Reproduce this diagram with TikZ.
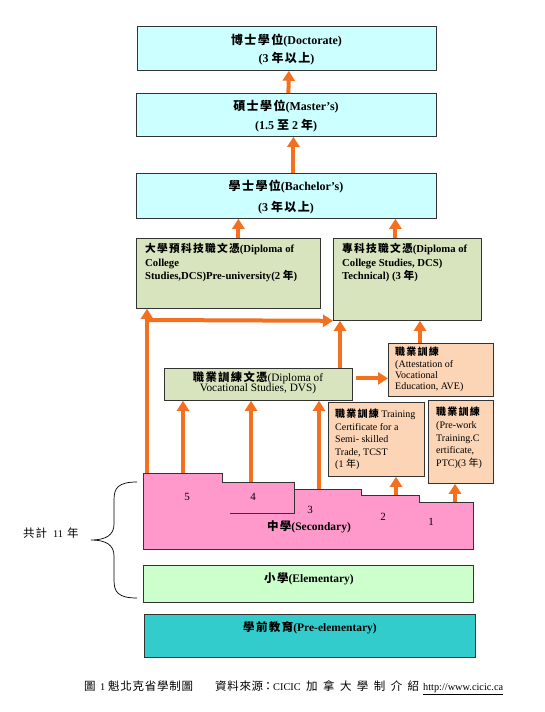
\documentclass[tikz,border=0pt]{standalone}
\usepackage{fontspec}
\setmainfont{Liberation Serif}
\newfontfamily\cjkf{Noto Sans CJK TC}[LetterSpace=12]
\newfontfamily\cjkp{Noto Sans CJK TC}
\newcommand\zhc[1]{{\cjkf #1}}
\usetikzlibrary{arrows.meta}
\definecolor{cyanc}{HTML}{CCFFFF}
\definecolor{greenc}{HTML}{D7E4BD}
\definecolor{peachc}{HTML}{FBD5B5}
\definecolor{pinkc}{HTML}{FF99CC}
\definecolor{elemc}{HTML}{CCFFCC}
\definecolor{prec}{HTML}{33CCCC}
\definecolor{orangec}{HTML}{F37021}
\definecolor{bordc}{HTML}{333333}
\begin{document}
\begin{tikzpicture}[x=1pt,y=-1pt,
  box/.style={draw=bordc, line width=0.8pt, inner sep=0pt, anchor=north west},
  arr/.style={draw=orangec, line width=4pt, -{Triangle[width=12pt,length=10pt]}},
  ttl/.style={font=\fontsize{12}{14}\selectfont\bfseries, inner sep=0pt},
  dcstxt/.style={font=\fontsize{10.7}{13.5}\selectfont\bfseries, align=left, inner sep=0pt, anchor=north west},
  smtxt/.style={font=\fontsize{10}{12.5}\selectfont, align=left, inner sep=0pt, anchor=north west},
  numtxt/.style={font=\fontsize{11}{13}\selectfont, inner sep=0pt}
]
\useasboundingbox (0,0) rectangle (544,712);
\fill[white] (0,0) rectangle (544,712);

% boxes
\node[box, fill=cyanc, minimum width=299pt, minimum height=44pt] (doc) at (137,26) {};
\node[box, fill=cyanc, minimum width=300pt, minimum height=43pt] (mas) at (136,93) {};
\node[box, fill=cyanc, minimum width=300pt, minimum height=45pt] (bac) at (136,173) {};
\node[box, fill=greenc, minimum width=184pt, minimum height=70pt] (dcsp) at (136,238) {};
\node[box, fill=greenc, minimum width=148pt, minimum height=82pt] (dcst) at (333,238) {};
\node[box, fill=greenc, minimum width=188pt, minimum height=32pt] (dvs) at (164,368) {};
\node[box, fill=peachc, minimum width=105pt, minimum height=53pt] (ave) at (388,343) {};
\node[box, fill=peachc, minimum width=96pt, minimum height=74pt] (tcst) at (328,402) {};
\node[box, fill=peachc, minimum width=65pt, minimum height=83pt] (ptc) at (428,400) {};
\node[box, fill=elemc, minimum width=330pt, minimum height=37pt] (elem) at (143,565) {};
\node[box, fill=prec, minimum width=331pt, minimum height=43pt] (pre) at (144,614) {};

% secondary stepped shape
\filldraw[fill=pinkc, draw=bordc, line width=0.8pt]
  (143,473) -- (222,473) -- (222,482) -- (294,482) -- (294,489) -- (361,489)
  -- (361,495) -- (419,495) -- (419,502) -- (473,502) -- (473,549) -- (143,549) -- cycle;
\draw[bordc, line width=0.8pt] (230,513) -- (294,513) -- (294,482);

% texts
\node[ttl] (doct1) at (286.5,41) {\zhc{博士學位}(Doctorate)};
\node[ttl] (doct2) at (286.5,59) {(3 \zhc{年以上})};
\node[ttl] (mast1) at (286,107) {\zhc{碩士學位}(Master’s)};
\node[ttl] (mast2) at (286,126) {(1.5 \zhc{至} 2 \zhc{年})};
\node[ttl] (bact1) at (286,187) {\zhc{學士學位}(Bachelor’s)};
\node[ttl] (bact2) at (286,208) {(3 \zhc{年以上})};
\node[dcstxt] (dcspt) at (145,243.5) {\zhc{大學預科技職文憑}(Diploma of\\College\\Studies,DCS)Pre-university(2 \zhc{年})};
\node[dcstxt] (dcstt) at (342,243.5) {\zhc{專科技職文憑}(Diploma of\\College Studies, DCS)\\Technical) (3 \zhc{年})};
\node[font=\fontsize{11.3}{10.5}\selectfont, align=center, inner sep=0pt] (dvst) at (258,383) {{\bfseries\zhc{職業訓練文憑}}(Diploma of\\Vocational Studies, DVS)};
\node[smtxt, font=\fontsize{10}{11.3}\selectfont] (avet) at (395,347) {{\bfseries\zhc{職業訓練}}\\(Attestation of\\Vocational\\Education, AVE)};
\node[smtxt] (tcstt) at (335,409) {{\bfseries\zhc{職業訓練}} Training\\Certificate for a\\Semi- skilled\\Trade, TCST\\(1 \zhc{年})};
\node[smtxt, font=\fontsize{10}{12.7}\selectfont] (ptct) at (436,407) {{\bfseries\zhc{職業訓練}}\\(Pre-work\\Training.C\\ertificate,\\PTC)(3 \zhc{年})};
\node[numtxt] (n5) at (187,497) {5};
\node[numtxt] (n4) at (253,497) {4};
\node[numtxt] (n3) at (310,510) {3};
\node[numtxt] (n2) at (383,517) {2};
\node[numtxt] (n1) at (431,522) {1};
\node[ttl, font=\fontsize{11.5}{13}\selectfont\bfseries] (sect) at (309,527) {\zhc{中學}(Secondary)};
\node[ttl, font=\fontsize{11.5}{13}\selectfont\bfseries] (elemt) at (309,579) {\zhc{小學}(Elementary)};
\node[ttl, font=\fontsize{11.5}{13}\selectfont\bfseries] (pret) at (310,628) {\zhc{學前教育}(Pre-elementary)};
\node[inner sep=0pt, anchor=west, font=\fontsize{10.3}{12}\selectfont] (tot) at (23,533)
  {\makebox[30pt][l]{\makebox[24pt][s]{\cjkp\fontsize{11.5}{12}\selectfont 共\hfill 計}}\makebox[14pt][l]{11}{\cjkp\fontsize{11.5}{12}\selectfont 年}};
\node[inner sep=0pt, anchor=west, font=\fontsize{10.3}{12}\selectfont] (cap) at (84,688)
  {\makebox[16pt][l]{\cjkp\fontsize{11.5}{12}\selectfont 圖}\makebox[8pt][l]{1}%
   \makebox[85pt][s]{\cjkp\fontsize{11.5}{12}\selectfont 魁\hfill 北\hfill 克\hfill 省\hfill 學\hfill 制\hfill 圖}\hspace*{22pt}%
   \makebox[48pt][s]{\cjkp\fontsize{11.5}{12}\selectfont 資\hfill 料\hfill 來\hfill 源}%
   \makebox[10pt][c]{\cjkp\fontsize{11.5}{12}\selectfont ：}%
   CICIC\hspace*{5.5pt}%
   \makebox[113pt][s]{\cjkp\fontsize{11.5}{12}\selectfont 加\hfill 拿\hfill 大\hfill 學\hfill 制\hfill 介\hfill 紹}\hspace*{4pt}%
   \underline{http://www.cicic.ca}};

% brace
\draw[black, line width=0.7pt] (137,482) .. controls (118,482) and (114,488) .. (114,500) -- (114,524)
  .. controls (114,535) and (106,540) .. (91,540) .. controls (106,540) and (114,545) .. (114,556)
  -- (114,580) .. controls (114,592) and (118,598) .. (137,598);

% arrow start coordinates on the secondary steps
\coordinate (s5a) at (147,473);
\coordinate (s5b) at (183,473);
\coordinate (s4) at (251,482);
\coordinate (s3) at (319,489);
\coordinate (s2) at (396,495);
\coordinate (s1) at (455,502);
\coordinate (hl) at (147,320);
\coordinate (v1) at ([xshift=176pt]dvs.north west);
\coordinate (d2a) at ([yshift=6pt]dvs.east);
\coordinate (a2t) at ([xshift=32pt]ave.north west);

% arrows
\draw[arr] ([xshift=2pt]mas.north) -- ([xshift=2pt]doc.south);
\draw[arr] ([xshift=7pt]bac.north) -- ([xshift=7pt]bac.north |- mas.south);
\draw[arr] ([xshift=10pt]dcsp.north) -- ([xshift=10pt]dcsp.north |- bac.south);
\draw[arr] ([xshift=-12pt]dcst.north) -- ([xshift=-12pt]dcst.north |- bac.south);
\draw[arr] (s5a) -- (s5a |- dcsp.south);
\draw[arr] (hl) -- (dcst.south west);
\draw[arr] (v1) -- (v1 |- dcst.south);
\draw[arr, shorten <=3pt] (d2a) -- (d2a -| ave.west);
\draw[arr] (a2t) -- (a2t |- dcst.south);
\draw[arr] (s5b) -- (s5b |- dvs.south);
\draw[arr] (s4) -- (s4 |- dvs.south);
\draw[arr] (s3) -- (s3 |- dvs.south);
\draw[arr] (s2) -- (s2 |- tcst.south);
\draw[arr] (s1) -- (s1 |- ptc.south);
\end{tikzpicture}
\end{document}
